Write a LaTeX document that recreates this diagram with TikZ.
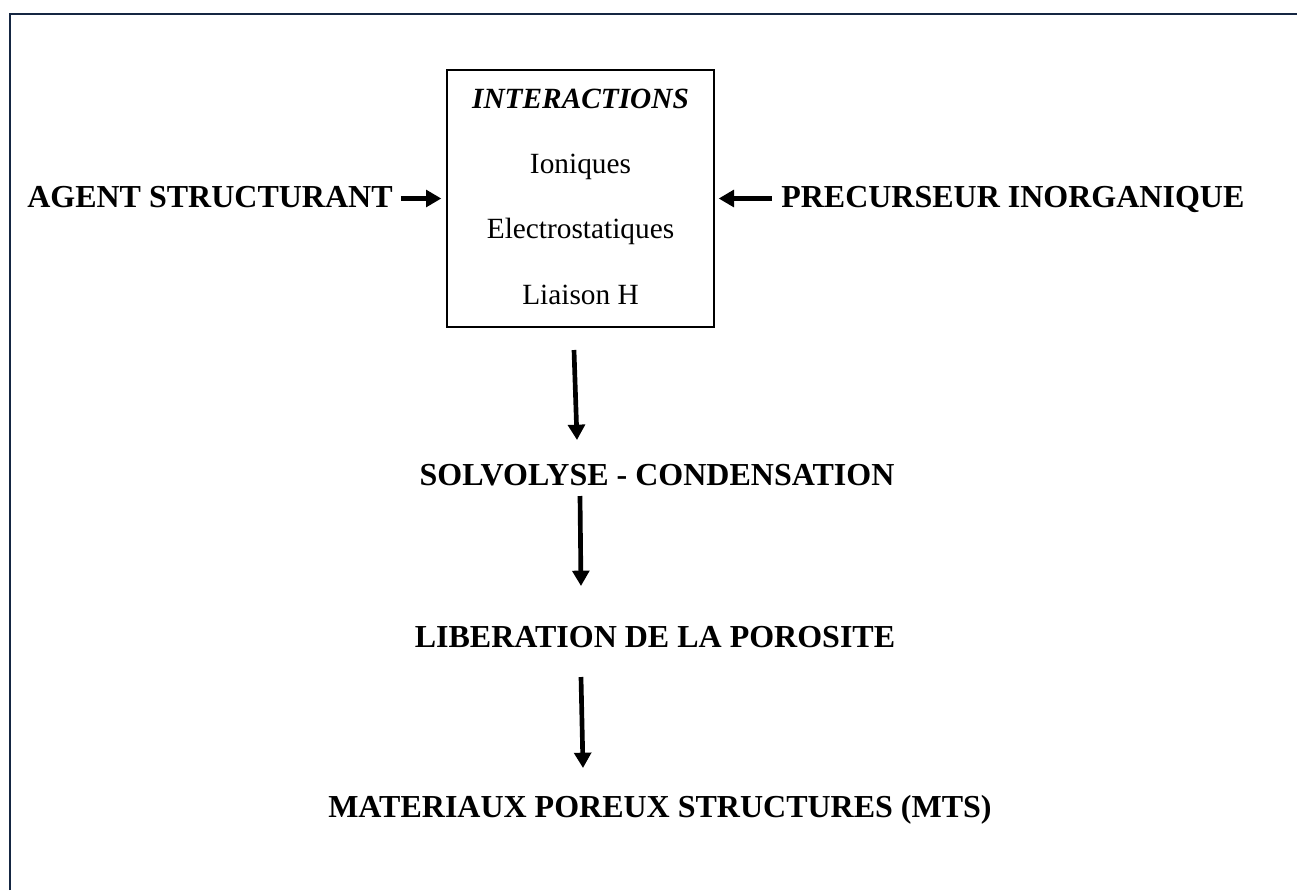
\documentclass[tikz,border=0pt]{standalone}
\usepackage{fontspec}
\setmainfont{Liberation Serif}
\usepackage{xcolor}
\usepackage{tikz}
\usetikzlibrary{arrows.meta}
\definecolor{framecol}{RGB}{21,38,66}
\tikzset{
	bigtxt/.style={inner sep=0pt, anchor=base, font=\fontsize{24}{28}\selectfont\bfseries},
	boxtxt/.style={inner sep=0pt, anchor=base, font=\fontsize{22}{26}\selectfont},
	arr/.style={line width=3.5pt, -{Triangle[length=11.5pt, width=12.5pt]}}
}
\begin{document}
\begin{tikzpicture}[x=0.75pt, y=-0.75pt]
				\useasboundingbox (0, 0) rectangle (1297, 890);
				% Frame:
				\draw[framecol, line width=1.6pt] (10.3, 890) -- (10.3, 14.3) -- (1297, 14.3);
				% Box and texts:
				\node[draw, line width=1pt, minimum width=200.25pt, minimum height=192.75pt](inter) at (580.5, 198.5){};
				\node[boxtxt](t1) at (580.5, 108){\textit{\textbf{INTERACTIONS}}};
				\node[boxtxt](t2) at (580.5, 173){Ioniques};
				\node[boxtxt](t3) at (580.5, 238){Electrostatiques};
				\node[boxtxt](t4) at (580.5, 304){Liaison H};
				\node[bigtxt, anchor=base west](agent) at (27, 207){AGENT STRUCTURANT};
				\node[bigtxt, anchor=base west](prec) at (781, 207){PRECURSEUR INORGANIQUE};
				\node[bigtxt](solvo) at (657, 485){SOLVOLYSE - CONDENSATION};
				\node[bigtxt](liber) at (655, 647){LIBERATION DE LA POROSITE};
				\node[bigtxt](mater) at (660, 817){MATERIAUX POREUX STRUCTURES (MTS)};
				% Arrows:
				\coordinate (d1a) at (574, 350);
				\coordinate (d1b) at (577, 440);
				\coordinate (d2a) at (580, 496);
				\coordinate (d2b) at (581, 586);
				\coordinate (d3a) at (581, 677);
				\coordinate (d3b) at (583, 768);
				\draw[arr, shorten <=6pt] (agent.east |- inter.west) -- ([xshift=-3.75pt]inter.west);
				\draw[arr, shorten <=6.75pt] (prec.west |- inter.east) -- ([xshift=3pt]inter.east);
				\draw[arr] (d1a) -- (d1b);
				\draw[arr] (d2a) -- (d2b);
				\draw[arr] (d3a) -- (d3b);
			\end{tikzpicture}
\end{document}
